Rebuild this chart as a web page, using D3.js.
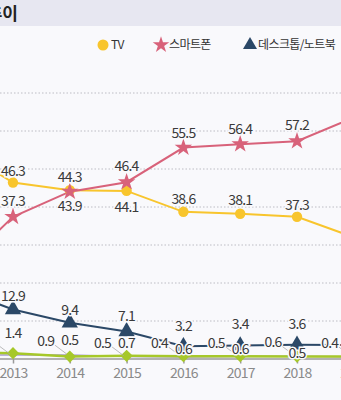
<!DOCTYPE html>
<html>
<head>
<meta charset="utf-8">
<script src="https://cdn.jsdelivr.net/npm/d3@7"></script>
<style>
  body { margin: 0; background: #f9f9fc; }
  svg { display: block; font-family: "Noto Sans CJK KR", "Noto Sans", sans-serif; }
</style>
</head>
<body>
<svg id="chart" width="341" height="400"></svg>
<script>
// years shown (2012 and 2019 sit partly outside the crop)
const years = [2012, 2013, 2014, 2015, 2016, 2017, 2018, 2019];
const yTicks = [10, 20, 30, 40, 50, 60, 70];

// series values
const tvValues = [55.4, 46.3, 44.3, 44.1, 38.6, 38.1, 37.3, 31.9];
const phoneValues = [22.8, 37.3, 43.9, 46.4, 55.5, 56.4, 57.2, 63.4];
const desktopValues = [18.5, 12.9, 9.4, 7.1, 3.2, 3.4, 3.6, 3.5];
const greenValues = [1.5, 1.4, 0.5, 0.7, 0.6, 0.6, 0.5, 0.5];
const purpleValues = [1.0, 0.9, 0.9, 0.5, 0.4, 0.5, 0.6, 0.4];

const W = 341, H = 400;
const bg = "#f9f9fc";
const svg = d3.select("#chart");

svg.append("rect").attr("width", W).attr("height", H).attr("fill", bg);
svg.append("rect").attr("width", W).attr("height", 26).attr("fill", "#e7e7f1");
svg.append("text")
    .attr("x", 18).attr("y", 20)
    .attr("text-anchor", "end")
    .attr("font-size", 17).attr("font-weight", "bold")
    .attr("fill", "#222")
    .text("주요 매체 중요도 추이");

const x = d3.scaleLinear().domain([2012, 2019]).range([-43.8, 353.8]);
const y = d3.scaleLinear().domain([0, 70]).range([358.5, 92.5]);

// dotted grid
const grid = svg.append("g")
    .attr("transform", `translate(${W},0)`)
    .call(d3.axisLeft(y).tickValues(yTicks).tickSize(W).tickFormat(""));
grid.select(".domain").remove();
grid.selectAll("line").attr("stroke", "#bdbdc4").attr("stroke-dasharray", "1.5,2");

// x axis
const xAxis = svg.append("g")
    .attr("transform", `translate(0,${y(0)})`)
    .call(d3.axisBottom(x).tickValues(years).tickSize(5).tickSizeOuter(0).tickPadding(5).tickFormat(d3.format("d")));
xAxis.select(".domain").attr("stroke", "#9a9a9a").attr("stroke-width", 1.5)
    .attr("d", `M-50,0.5H${W + 10}`);
xAxis.selectAll("line").attr("stroke", "#9a9a9a").attr("stroke-width", 1.5);
xAxis.selectAll("text")
    .attr("fill", "#8a8a8a").attr("font-size", 14).attr("letter-spacing", -0.8)
    .attr("font-family", "'Noto Sans CJK KR', sans-serif");

const series = [
  { name: "purple", values: purpleValues, color: "#a99bd4", width: 1.5, symbol: d3.symbolCross, size: 22,
    label: "leader" },
  { name: "green", values: greenValues, color: "#a6c82a", width: 2.5, symbol: d3.symbolSquare, size: 75, rotate: 45,
    labelDy: [-20, -20, -17, -13, -7, -7, -4, -4] },
  { name: "데스크톱/노트북", values: desktopValues, color: "#2b4867", width: 2, symbol: d3.symbolTriangle, size: 115,
    labelDy: [-13, -13, -13, -15, -20, -21, -21, -21] },
  { name: "TV", values: tvValues, color: "#f8c52d", width: 2, symbol: d3.symbolCircle, size: 85,
    labelDy: [-11, -11, -13, 16, -13, -14, -12, -12] },
  { name: "스마트폰", values: phoneValues, color: "#d8627a", width: 2, symbol: d3.symbolStar, size: 95,
    labelDy: [-16, -16, 14, -16, -15, -15, -16, -16] }
];

const line = d3.line().x((d, i) => x(years[i])).y(d => y(d));

series.forEach(s => {
  svg.append("path")
      .attr("d", line(s.values))
      .attr("fill", "none")
      .attr("stroke", s.color)
      .attr("stroke-width", s.width);
});

series.forEach(s => {
  svg.append("g").selectAll("path")
      .data(s.values)
      .join("path")
      .attr("d", d3.symbol().type(s.symbol).size(s.size))
      .attr("transform", (d, i) => `translate(${x(years[i])},${y(d)})${s.rotate ? ` rotate(${s.rotate})` : ""}`)
      .attr("fill", s.color);
});

// value labels
const fmt = d3.format(".1f");
series.forEach(s => {
  const g = svg.append("g");
  s.values.forEach((v, i) => {
    const px = x(years[i]), py = y(v);
    let lx = px, ly;
    if (s.label === "leader") {
      lx = px - 24;
      ly = py - 14;
      g.append("line")
          .attr("x1", lx + 9).attr("y1", ly + 4)
          .attr("x2", px - 3).attr("y2", py - 1)
          .attr("stroke", "#aaa").attr("stroke-width", 0.8);
    } else {
      ly = py + s.labelDy[i];
    }
    g.append("text")
        .attr("x", lx).attr("y", ly)
        .attr("dy", "0.35em")
        .attr("text-anchor", "middle")
        .attr("font-size", 14).attr("letter-spacing", -0.8)
        .attr("fill", "#3a3a3a")
        .attr("stroke", bg).attr("stroke-width", 3)
        .attr("paint-order", "stroke")
        .text(fmt(v));
  });
});

// legend
const legendPos = { "TV": 103, "스마트폰": 161, "데스크톱/노트북": 250 };
const legendItems = series.filter(s => s.name in legendPos);
const legend = svg.append("g");
legendItems.forEach(s => {
  const lx = legendPos[s.name];
  legend.append("path")
      .attr("d", d3.symbol().type(s.symbol).size(s.symbol === d3.symbolCircle ? 95 : 85))
      .attr("transform", `translate(${lx},45)`)
      .attr("fill", s.color);
  legend.append("text")
      .attr("x", lx + 8).attr("y", 45).attr("dy", "0.35em")
      .attr("font-size", 12).attr("letter-spacing", -0.6)
      .attr("fill", "#333")
      .text(s.name);
});
</script>
</body>
</html>
